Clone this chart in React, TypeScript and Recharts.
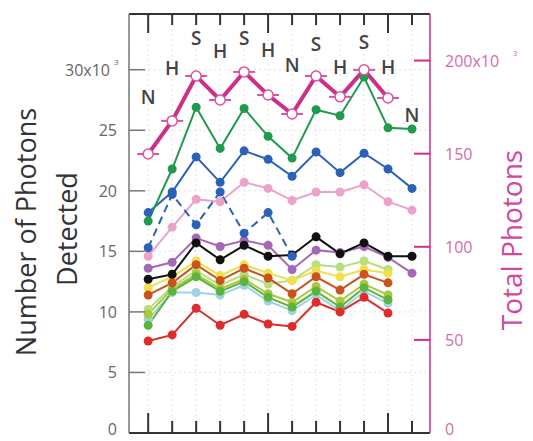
import {
  ComposedChart,
  Line,
  XAxis,
  YAxis,
  CartesianGrid,
  LabelList,
} from "recharts";

// x positions (one per measurement)
const pointIndex = [1, 2, 3, 4, 5, 6, 7, 8, 9, 10, 11, 12];
const majorTicks = [1, 6, 11];
const conditions = ["N", "H", "S", "H", "S", "H", "N", "S", "H", "S", "H", "N"];
// right-axis level at which each condition letter sits
const condLabelLevel = [180.4, 196, 212, 205, 212, 205.7, 197.6, 209, 196.6, 210, 196.6, 170.8];

const leftTicks = [0, 5, 10, 15, 20, 25, 30];
const rightTicks = [0, 50, 100, 150, 200];

// total photons (x10^3), right axis
const totalPhotons = [149.8, 167.6, 191.7, 178.8, 193.9, 181.5, 171.3, 191.7, 180.5, 195.0, 179.9, null];

// photons detected (x10^3), left axis
const greenDark = [17.5, 21.8, 26.9, 23.5, 26.8, 24.5, 22.7, 26.7, 26.2, 29.4, 25.2, 25.1];
const blueSolid = [18.2, 19.9, 22.8, 20.7, 23.3, 22.6, 21.2, 23.2, 21.5, 23.1, 21.8, 20.2];
const blueDashed = [15.3, 19.7, 17.2, 19.9, 16.5, 18.2, 14.6, null, null, null, null, null];
const pink = [14.6, 17.0, 19.3, 19.1, 20.7, 20.2, 19.2, 19.9, 19.9, 20.5, 19.1, 18.4];
const black = [12.7, 13.1, 15.7, 14.3, 15.5, 14.6, 14.7, 16.2, 14.8, 15.7, 14.6, 14.6];
const purple = [13.6, 14.1, 16.1, 15.4, 15.9, 15.5, 13.5, 15.1, 14.9, 15.4, 14.5, 13.2];
const orange = [11.4, 12.4, 13.9, 12.6, 13.6, 12.8, 11.5, 12.9, 11.8, 13.1, 12.4, null];
const yellow = [12.0, 12.9, 14.2, 13.0, 13.9, 13.2, 12.6, 13.4, 12.9, 13.5, 13.2, null];
const lightGreen = [10.2, 12.1, 13.4, 12.2, 13.1, 12.3, 12.6, 13.9, 13.7, 14.2, 13.5, null];
const olive = [9.8, 11.9, 13.1, 11.9, 12.7, 11.5, 10.8, 12.1, 10.9, 12.3, 11.4, null];
const cyan = [9.4, 11.6, 11.6, 11.4, 12.2, 10.9, 10.1, 11.4, 10.1, 11.7, 10.7, null];
const green = [8.9, 11.7, 12.9, 11.7, 12.5, 11.2, 10.4, 11.7, 10.4, 12.0, 11.0, null];
const red = [7.6, 8.1, 10.3, 8.9, 9.8, 9.0, 8.8, 10.8, 10.0, 11.2, 9.9, null];

const chartData = pointIndex.map((idx, i) => ({
  idx,
  cond: conditions[i],
  condAt: condLabelLevel[i],
  total: totalPhotons[i],
  cyan: cyan[i],
  lightGreen: lightGreen[i],
  yellow: yellow[i],
  olive: olive[i],
  green: green[i],
  orange: orange[i],
  red: red[i],
  purple: purple[i],
  black: black[i],
  pink: pink[i],
  blueDashed: blueDashed[i],
  blueSolid: blueSolid[i],
  greenDark: greenDark[i],
}));

// drawing order, bottom first
const seriesStyles = [
  { key: "cyan", color: "#9ed3e4" },
  { key: "lightGreen", color: "#b9de7c" },
  { key: "yellow", color: "#efe04e" },
  { key: "olive", color: "#a9c83c" },
  { key: "green", color: "#5cb43e" },
  { key: "orange", color: "#c9521f" },
  { key: "red", color: "#e02b2b" },
  { key: "purple", color: "#a469b6" },
  { key: "black", color: "#111111" },
  { key: "pink", color: "#eda3c9" },
  { key: "blueDashed", color: "#2b62b7", dashed: true },
  { key: "blueSolid", color: "#2b62b7" },
  { key: "greenDark", color: "#1f9a4e" },
];

const MAGENTA = "#cc2e88";
const FONT = "'Open Sans', 'Noto Sans', sans-serif";

function LeftTick({ x, y, payload }: any) {
  const v = payload.value;
  // keep the bottom label inside the picture
  const ty = v === 0 ? y - 4 : y;
  return (
    <g>
      {v > 0 && <line x1={x} x2={x + 16} y1={y} y2={y} stroke="#777" strokeWidth={1.5} />}
      {v === 30 ? (
        <>
          <text x={x - 19} y={ty} textAnchor="end" dominantBaseline="central" fontSize={16} fill="#666" fontFamily={FONT}>
            30x10
          </text>
          <text x={x - 15} y={ty - 8} textAnchor="start" dominantBaseline="central" fontSize={8} fill="#666" fontFamily={FONT}>
            3
          </text>
        </>
      ) : (
        <text x={x - 12} y={ty} textAnchor="end" dominantBaseline="central" fontSize={16} fill="#666" fontFamily={FONT}>
          {String(v)}
        </text>
      )}
    </g>
  );
}

function RightTick({ x, y, payload }: any) {
  const v = payload.value;
  const ty = v === 0 ? y - 4 : y;
  return (
    <g>
      {v > 0 && <line x1={x} x2={x - 16} y1={y} y2={y} stroke={MAGENTA} strokeWidth={2} />}
      <text x={x + 15} y={ty} textAnchor="start" dominantBaseline="central" fontSize={16} fill="#d46cac" fontFamily={FONT}>
        {v === 200 ? "200x10" : String(v)}
      </text>
      {v === 200 && (
        <text x={x + 83} y={ty - 8} dominantBaseline="central" fontSize={8} fill="#d46cac" fontFamily={FONT}>
          3
        </text>
      )}
    </g>
  );
}

function BottomTick({ x, y, payload }: any) {
  const len = majorTicks.includes(payload.value) ? 20 : 12;
  return <line x1={x} x2={x} y1={y} y2={y - len} stroke="#333" strokeWidth={2} />;
}

function TopTick({ x, y, payload }: any) {
  const len = majorTicks.includes(payload.value) ? 19 : 11;
  return <line x1={x} x2={x} y1={y} y2={y + len} stroke="#333" strokeWidth={2} />;
}

function TotalDot({ cx, cy }: any) {
  if (cx == null || cy == null || isNaN(cy)) return <g />;
  return (
    <g>
      <line x1={cx - 11} x2={cx + 11} y1={cy} y2={cy} stroke="#d9559f" strokeWidth={2} />
      <circle cx={cx} cy={cy} r={5} fill="#fff" stroke="#d9559f" strokeWidth={1.5} />
    </g>
  );
}

function CondLabel({ x, y, value }: any) {
  if (x == null || y == null) return null;
  return (
    <text x={x} y={y} textAnchor="middle" dominantBaseline="central" fontSize={19} fontWeight={600} fill="#444" fontFamily={FONT}>
      {value}
    </text>
  );
}

function LeftTitle() {
  return (
    <g fontFamily={FONT} fill="#333" fontSize={27}>
      <text x={25} y={232} textAnchor="middle" dominantBaseline="central" transform="rotate(-90 25 232)">
        Number of Photons
      </text>
      <text x={66} y={229} textAnchor="middle" dominantBaseline="central" transform="rotate(-90 66 229)">
        Detected
      </text>
    </g>
  );
}

function RightTitle() {
  return (
    <text
      x={511}
      y={240}
      textAnchor="middle"
      dominantBaseline="central"
      transform="rotate(-90 511 240)"
      fontFamily={FONT}
      fontSize={28}
      fill="#d2479e"
    >
      Total Photons
    </text>
  );
}

export default function App() {
  return (
    <div style={{ position: "absolute", left: 0, top: 0, background: "#fff" }}>
      <ComposedChart
        width={533}
        height={441}
        data={chartData}
        margin={{ top: 0, right: 0, bottom: 0, left: 0 }}
      >
        <CartesianGrid
          xAxisId="bottom"
          yAxisId="left"
          stroke="#e4e4e4"
          strokeDasharray="2 3"
        />
        <XAxis
          xAxisId="bottom"
          dataKey="idx"
          type="number"
          domain={[0.2, 12.75]}
          ticks={pointIndex}
          interval={0}
          allowDataOverflow
          height={8}
          tickSize={0}
          tickMargin={0}
          tickLine={false}
          tick={<BottomTick />}
          axisLine={{ stroke: "#333", strokeWidth: 2 }}
        />
        <XAxis
          xAxisId="top"
          orientation="top"
          dataKey="idx"
          type="number"
          domain={[0.2, 12.75]}
          ticks={pointIndex}
          interval={0}
          allowDataOverflow
          height={14}
          tickSize={0}
          tickMargin={0}
          tickLine={false}
          tick={<TopTick />}
          axisLine={{ stroke: "#333", strokeWidth: 2 }}
        />
        <YAxis
          yAxisId="left"
          type="number"
          domain={[0, 34.6]}
          ticks={leftTicks}
          interval={0}
          allowDataOverflow
          width={129}
          tickSize={0}
          tickMargin={0}
          tickLine={false}
          tick={<LeftTick />}
          axisLine={{ stroke: "#777", strokeWidth: 1.5 }}
          label={<LeftTitle />}
        />
        <YAxis
          yAxisId="right"
          orientation="right"
          type="number"
          domain={[0, 225]}
          ticks={rightTicks}
          interval={0}
          allowDataOverflow
          width={103}
          tickSize={0}
          tickMargin={0}
          tickLine={false}
          tick={<RightTick />}
          axisLine={{ stroke: MAGENTA, strokeWidth: 1.5 }}
          label={<RightTitle />}
        />

        {seriesStyles.map((s) => (
          <Line
            key={s.key}
            xAxisId="bottom"
            yAxisId="left"
            type="linear"
            dataKey={s.key}
            stroke={s.color}
            strokeWidth={2}
            strokeDasharray={s.dashed ? "8 5" : undefined}
            dot={{ r: 4.5, fill: s.color, stroke: s.color, strokeWidth: 0 }}
            activeDot={false}
            isAnimationActive={false}
          />
        ))}

        <Line
          xAxisId="bottom"
          yAxisId="right"
          type="linear"
          dataKey="total"
          stroke={MAGENTA}
          strokeWidth={4}
          dot={<TotalDot />}
          activeDot={false}
          isAnimationActive={false}
        />
        <Line
          xAxisId="bottom"
          yAxisId="right"
          type="linear"
          dataKey="condAt"
          stroke="none"
          dot={false}
          activeDot={false}
          isAnimationActive={false}
        >
          <LabelList dataKey="cond" content={<CondLabel />} />
        </Line>
      </ComposedChart>
    </div>
  );
}
